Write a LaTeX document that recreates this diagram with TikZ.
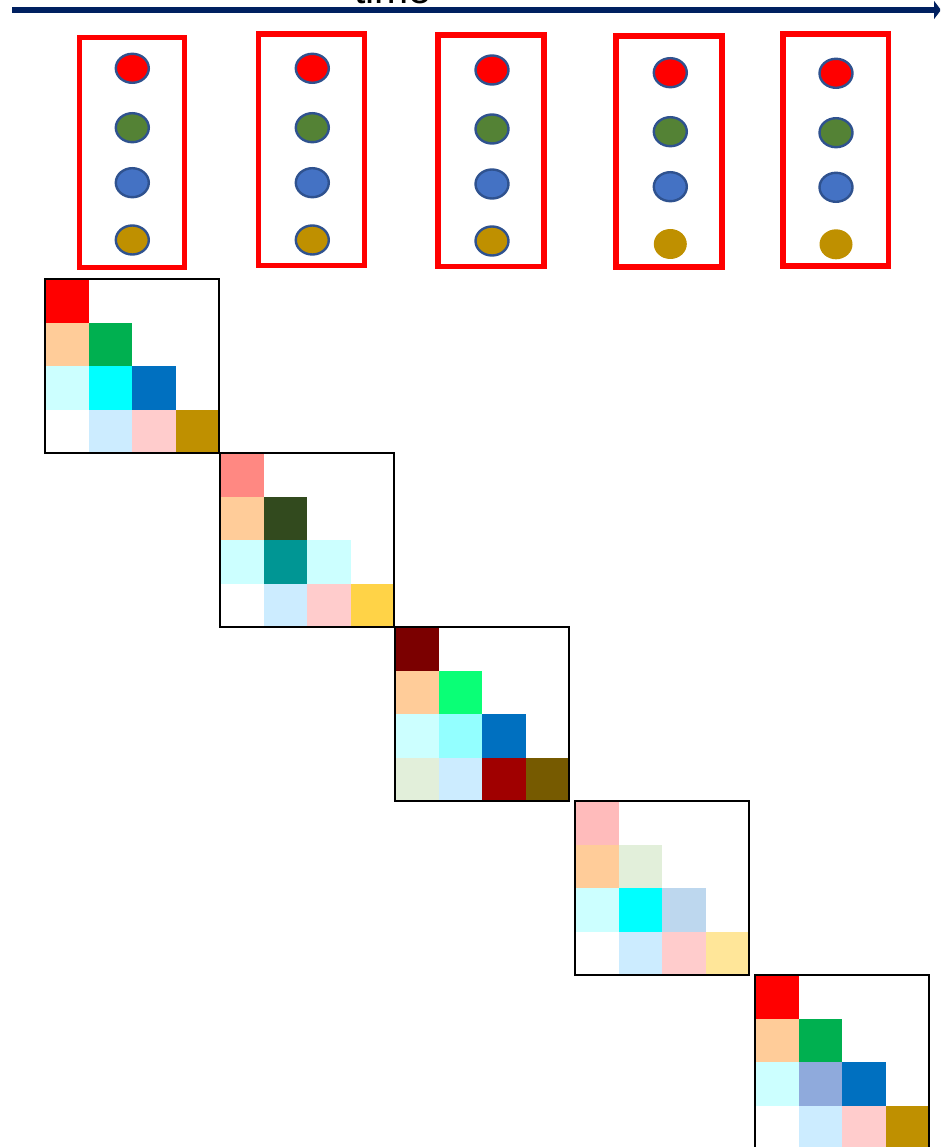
\documentclass[tikz,border=0pt]{standalone}
\usepackage{fontspec}
\setmainfont{Liberation Sans}
\usetikzlibrary{arrows.meta,shapes.geometric}
\definecolor{navy}{HTML}{002060}
\definecolor{cred}{HTML}{FF0000}
\definecolor{cgreen}{HTML}{548235}
\definecolor{cblue}{HTML}{4472C4}
\definecolor{cgold}{HTML}{BF9000}
\definecolor{cedge}{HTML}{2F528F}
\definecolor{peach}{HTML}{FFCC99}
\definecolor{lcyan}{HTML}{CCFFFF}
\definecolor{lblue}{HTML}{CCECFF}
\definecolor{lpink}{HTML}{FFCCCC}
\definecolor{mgreen}{HTML}{00B050}
\definecolor{aqua}{HTML}{00FFFF}
\definecolor{dblue}{HTML}{0070C0}
\definecolor{salmon}{HTML}{FF8882}
\definecolor{olive}{HTML}{324A1E}
\definecolor{teal2}{HTML}{009694}
\definecolor{yel}{HTML}{FFD347}
\definecolor{maroon}{HTML}{7B0000}
\definecolor{spring}{HTML}{0AFF76}
\definecolor{aqua2}{HTML}{93FFFF}
\definecolor{lgreen}{HTML}{E2EFDA}
\definecolor{dred}{HTML}{A00000}
\definecolor{brown2}{HTML}{765A00}
\definecolor{rose}{HTML}{FFBBBB}
\definecolor{steel}{HTML}{BDD7EE}
\definecolor{lyel}{HTML}{FFE699}
\definecolor{perw}{HTML}{8FAADC}
\newcommand{\mymat}[3]{%
  \foreach \r/\c/\col in {#3} {\fill[\col] (#1+\c*43.5,#2+\r*43.5) rectangle ++(43.5,43.5);}
  \draw[matframe] (#1,#2) rectangle ++(174,174);}
\begin{document}
\begin{tikzpicture}[x=1pt,y=-1pt,
  redbox/.style={draw=cred,line width=5.5pt},
  dot/.style={ellipse,draw=cedge,line width=2.4pt,minimum width=33pt,minimum height=29pt,inner sep=0pt},
  flat/.style={ellipse,minimum width=33pt,minimum height=30pt,inner sep=0pt},
  matframe/.style={draw=black,line width=2pt},
  timeline/.style={draw=navy,line width=5.5pt,-{Triangle[length=7pt,width=18pt]}}]
\useasboundingbox (0,0) rectangle (940,1147);
\clip (0,0) rectangle (940,1147);
% time axis
\coordinate (ta) at (12,10);
\coordinate (tb) at (941,10);
\node[anchor=base,inner sep=0pt,font=\fontsize{41}{41}\selectfont] (time) at (393,4) {time};
\draw[timeline] (ta) -- (tb);
% red boxes
\draw[redbox] (79.5,37.5) rectangle (184.5,267.5);
\draw[redbox] (258.5,34) rectangle (364.5,265.5);
\draw[redbox] (438,35) rectangle (544,266.5);
\draw[redbox] (616,36) rectangle (722,267);
\draw[redbox] (783,34) rectangle (888.5,266);
% dots
\node[dot,fill=cred] (a1) at (132.3,68.3) {};
\node[dot,fill=cgreen] (a2) at (132.3,127.7) {};
\node[dot,fill=cblue] (a3) at (132.3,182.7) {};
\node[dot,fill=cgold] (a4) at (132.3,240) {};
\node[dot,fill=cred] (b1) at (312.3,68.3) {};
\node[dot,fill=cgreen] (b2) at (312.3,127.7) {};
\node[dot,fill=cblue] (b3) at (312.3,182.7) {};
\node[dot,fill=cgold] (b4) at (312.3,240) {};
\node[dot,fill=cred] (c1) at (492,70) {};
\node[dot,fill=cgreen] (c2) at (492,129) {};
\node[dot,fill=cblue] (c3) at (492,184) {};
\node[dot,fill=cgold] (c4) at (492,241) {};
\node[dot,fill=cred] (d1) at (670.3,72.7) {};
\node[dot,fill=cgreen] (d2) at (670.3,131.7) {};
\node[dot,fill=cblue] (d3) at (670.3,186.7) {};
\node[flat,fill=cgold] (d4) at (670.3,244) {};
\node[dot,fill=cred] (e1) at (836,73.3) {};
\node[dot,fill=cgreen] (e2) at (836,132.7) {};
\node[dot,fill=cblue] (e3) at (836,187.3) {};
\node[flat,fill=cgold] (e4) at (836,244.3) {};
% matrices
\mymat{45}{279}{0/0/cred,1/0/peach,1/1/mgreen,2/0/lcyan,2/1/aqua,2/2/dblue,3/1/lblue,3/2/lpink,3/3/cgold}
\mymat{220}{453}{0/0/salmon,1/0/peach,1/1/olive,2/0/lcyan,2/1/teal2,2/2/lcyan,3/1/lblue,3/2/lpink,3/3/yel}
\mymat{395}{627}{0/0/maroon,1/0/peach,1/1/spring,2/0/lcyan,2/1/aqua2,2/2/dblue,3/0/lgreen,3/1/lblue,3/2/dred,3/3/brown2}
\mymat{575}{801}{0/0/rose,1/0/peach,1/1/lgreen,2/0/lcyan,2/1/aqua,2/2/steel,3/1/lblue,3/2/lpink,3/3/lyel}
\mymat{755}{975}{0/0/cred,1/0/peach,1/1/mgreen,2/0/lcyan,2/1/perw,2/2/dblue,3/1/lblue,3/2/lpink,3/3/cgold}
\end{tikzpicture}
\end{document}
